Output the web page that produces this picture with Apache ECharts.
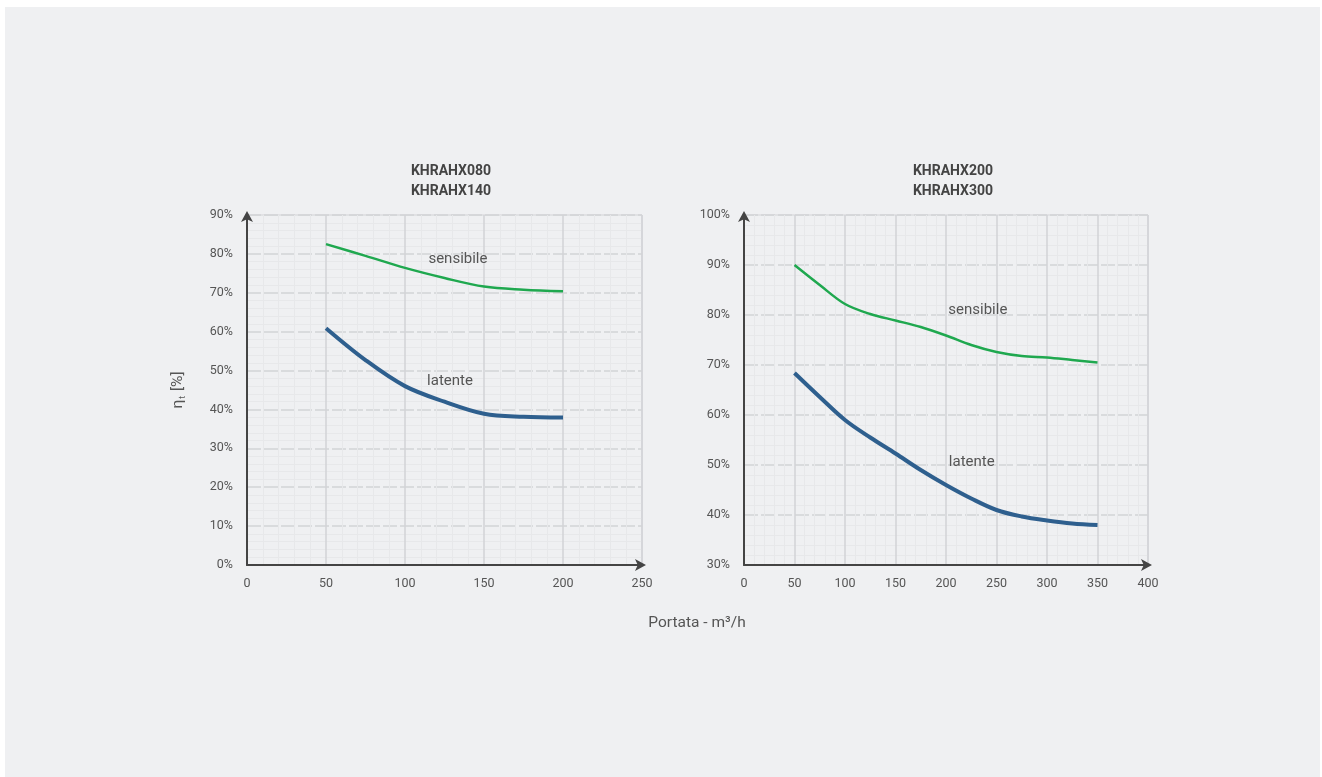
<!DOCTYPE html>
<html>
<head>
<meta charset="utf-8">
<script src="https://cdn.jsdelivr.net/npm/echarts@6/dist/echarts.min.js"></script>
<style>
  html, body { margin: 0; padding: 0; background: #ffffff; }
  #panel { position: absolute; left: 5px; top: 7px; width: 1315px; height: 770px; background: #eff0f2; }
  #chart { position: absolute; left: 0; top: 0; width: 1322px; height: 777px; }
</style>
</head>
<body>
<div id="panel"></div>
<div id="chart"></div>
<script>
// Airflow (m³/h) sampled every 25 units
const flowSmall = [50, 75, 100, 125, 150, 175, 200];
const flowLarge = [50, 75, 100, 125, 150, 175, 200, 225, 250, 275, 300, 325, 350];

// Efficiency (%) – KHRAHX080 / KHRAHX140
const smallSensibile = [82.5, 79.5, 76.4, 73.8, 71.6, 70.8, 70.4];
const smallLatente   = [60.9, 52.7, 46.0, 42.0, 38.9, 38.1, 37.9];

// Efficiency (%) – KHRAHX200 / KHRAHX300
const largeSensibile = [90.0, 86.0, 82.2, 80.2, 78.9, 77.6, 75.9, 74.0, 72.6, 71.8, 71.5, 71.0, 70.5];
const largeLatente   = [68.4, 63.6, 59.0, 55.5, 52.3, 49.0, 46.0, 43.3, 41.0, 39.7, 38.9, 38.3, 38.0];

const titles = ['KHRAHX080\nKHRAHX140', 'KHRAHX200\nKHRAHX300'];
const seriesNames = ['sensibile', 'latente'];

// Curve captions anchored in data units: [gridIndex, flow, efficiency, text]
const curveLabels = [
  [0, 133.5, 78.7, 'sensibile'],
  [0, 128.5, 47.3, 'latente'],
  [1, 231.5, 81.0, 'sensibile'],
  [1, 225.5, 50.6, 'latente']
];

const FONT = 'Roboto, "Noto Sans", sans-serif';
const GREEN = '#1fa84f';
const BLUE = '#2e5f8e';

function xAxisCfg(gridIndex, max) {
  return {
    type: 'value', gridIndex: gridIndex, min: 0, max: max, interval: 50,
    axisLine: { show: true, lineStyle: { color: '#444', width: 2 }, symbol: ['none', 'arrow'], symbolSize: [9, 11], symbolOffset: [0, 4] },
    axisTick: { show: false },
    axisLabel: { color: '#555', fontSize: 12.5, fontFamily: FONT, margin: 12 },
    splitLine: { show: true, lineStyle: { color: '#d2d3d6', width: 1.5 } },
    minorTick: { show: false, splitNumber: 5 },
    minorSplitLine: { show: true, lineStyle: { color: '#e7e8ea', width: 1 } }
  };
}

function yAxisCfg(gridIndex, min, max) {
  return {
    type: 'value', gridIndex: gridIndex, min: min, max: max, interval: 10,
    axisLine: { show: true, lineStyle: { color: '#444', width: 2 }, symbol: ['none', 'arrow'], symbolSize: [9, 11], symbolOffset: [0, 4] },
    axisTick: { show: false },
    axisLabel: { color: '#555', fontSize: 12.5, fontFamily: FONT, margin: 14, formatter: '{value}%' },
    splitLine: { show: true, lineStyle: { color: '#d2d3d6', width: 1.5, type: [14, 3] } },
    minorTick: { show: false, splitNumber: 5 },
    minorSplitLine: { show: true, lineStyle: { color: '#e7e8ea', width: 1 } }
  };
}

function lineSeries(name, xs, ys, idx, color, width) {
  return {
    name: name, type: 'line', xAxisIndex: idx, yAxisIndex: idx,
    data: xs.map((x, i) => [x, ys[i]]),
    smooth: 0.35, showSymbol: false, silent: true,
    lineStyle: { color: color, width: width, cap: 'butt' }
  };
}

const chart = echarts.init(document.getElementById('chart'), null, { renderer: 'canvas' });

const titleStyle = { fontSize: 14, fontWeight: 'bold', color: '#444', lineHeight: 20, fontFamily: FONT };

const option = {
  backgroundColor: 'transparent',
  animation: false,
  textStyle: { fontFamily: FONT },
  title: [
    { text: titles[0], left: 446, top: 156, textAlign: 'center', textStyle: titleStyle },
    { text: titles[1], left: 948, top: 156, textAlign: 'center', textStyle: titleStyle },
    { text: 'Portata - m³/h', left: 692, top: 610, textAlign: 'center',
      textStyle: { fontSize: 15.5, fontWeight: 'normal', color: '#555', fontFamily: FONT } }
  ],
  grid: [
    { left: 247, top: 215, width: 395, height: 350, show: true, borderColor: '#d2d3d6', borderWidth: 1, backgroundColor: 'transparent' },
    { left: 744, top: 215, width: 404, height: 350, show: true, borderColor: '#d2d3d6', borderWidth: 1, backgroundColor: 'transparent' }
  ],
  xAxis: [xAxisCfg(0, 250), xAxisCfg(1, 400)],
  yAxis: [yAxisCfg(0, 0, 90), yAxisCfg(1, 30, 100)],
  series: [
    lineSeries(seriesNames[0], flowSmall, smallSensibile, 0, GREEN, 2.5),
    lineSeries(seriesNames[1], flowSmall, smallLatente, 0, BLUE, 4),
    lineSeries(seriesNames[0], flowLarge, largeSensibile, 1, GREEN, 2.5),
    lineSeries(seriesNames[1], flowLarge, largeLatente, 1, BLUE, 4)
  ]
};

chart.setOption(option);

// Curve captions and the shared vertical axis title
const graphics = curveLabels.map(([g, x, y, text]) => {
  const p = chart.convertToPixel({ gridIndex: g }, [x, y]);
  return {
    type: 'text', x: p[0], y: p[1], silent: true,
    style: { text: text, fill: '#555', fontSize: 15, fontFamily: FONT, align: 'center', verticalAlign: 'middle' }
  };
});

graphics.push({
  type: 'text', x: 178, y: 390, rotation: Math.PI / 2, silent: true,
  style: {
    text: '{a|η}{s|t}{a| [%]}',
    align: 'center', verticalAlign: 'middle',
    rich: {
      a: { fontSize: 15.5, fill: '#555', fontFamily: FONT, lineHeight: 18, verticalAlign: 'middle' },
      s: { fontSize: 9, fill: '#555', fontFamily: FONT, lineHeight: 18, verticalAlign: 'bottom', padding: [8, 1, 0, 1] }
    }
  }
});

chart.setOption({ graphic: graphics });
</script>
</body>
</html>
